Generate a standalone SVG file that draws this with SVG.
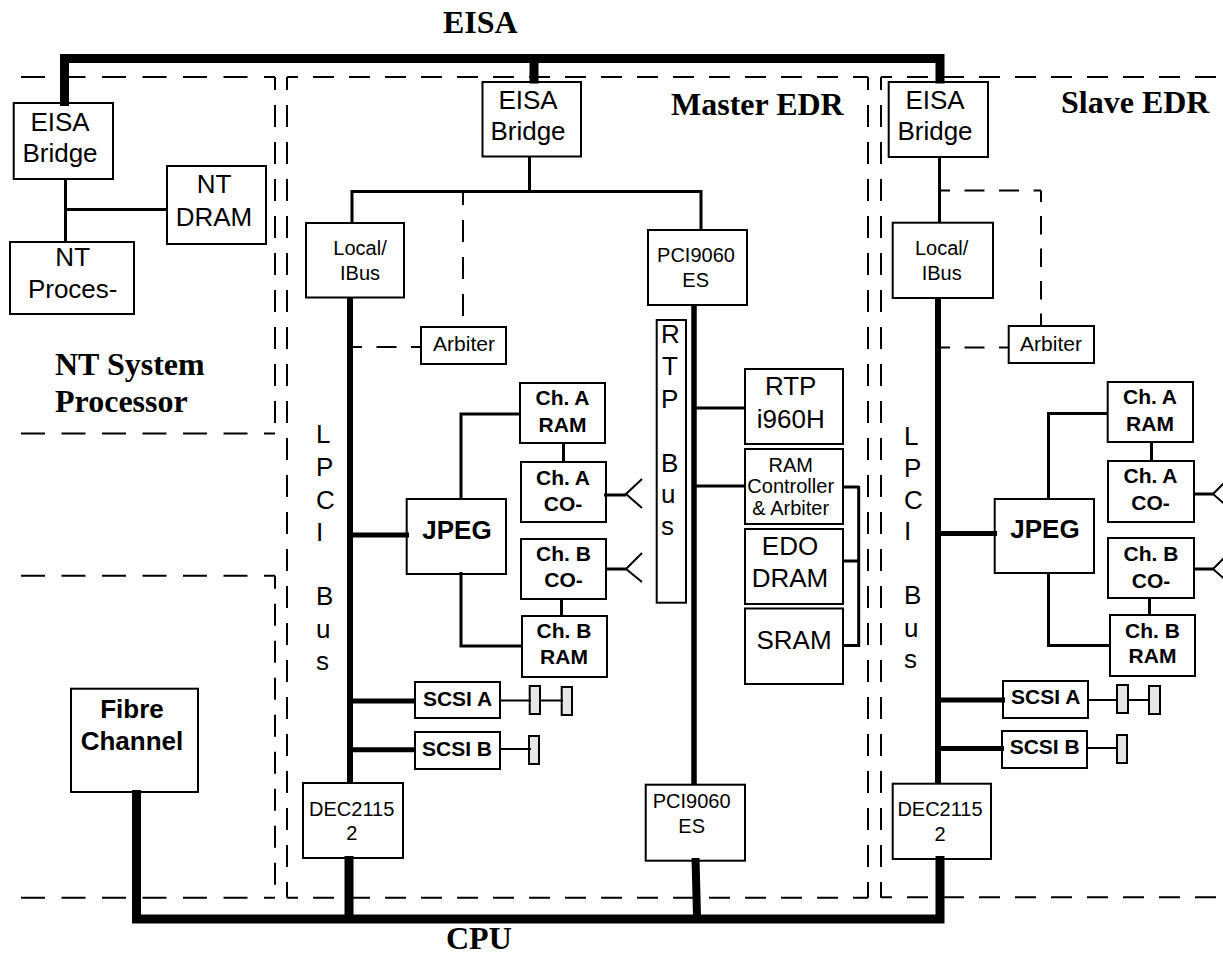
<svg xmlns="http://www.w3.org/2000/svg" width="1223" height="956" viewBox="0 0 1223 956">
<style>
text{font-family:"Liberation Sans",Arial,sans-serif;fill:#000;text-anchor:middle}
.h{font-family:"Liberation Serif","Times New Roman",serif;font-weight:bold;font-size:32px;text-anchor:start}
.s26{font-size:26px}.s20{font-size:20px}.s21{font-size:21px}
.b{font-weight:bold}
.bus{font-size:26px;text-anchor:start}
.box{fill:#fff;stroke:#000;stroke-width:2}
.term{fill:#e6e6e6;stroke:#000;stroke-width:2}
.ln{fill:none;stroke:#000;stroke-width:3}
.thin{fill:none;stroke:#000;stroke-width:2}
.mid{fill:none;stroke:#000;stroke-width:5}
.trunk{fill:none;stroke:#000;stroke-width:6}
.thick{fill:none;stroke:#000;stroke-width:9}
.dh{fill:none;stroke:#000;stroke-width:2;stroke-dasharray:24 16.5}
.dv{fill:none;stroke:#000;stroke-width:2;stroke-dasharray:22 15;stroke-dashoffset:9}
.dm{fill:none;stroke:#000;stroke-width:2;stroke-dasharray:21 15;stroke-dashoffset:10}
.da{fill:none;stroke:#000;stroke-width:2;stroke-dasharray:20 14.5;stroke-dashoffset:10}
.db{fill:none;stroke:#000;stroke-width:2;stroke-dasharray:18.5 14;stroke-dashoffset:7}
</style>
<g id="regions">
<path class="dh" d="M21 77H275M21 433.500H275M21 575.700H275M21 897.700H275"/>
<path class="dv" d="M275 77V433.500M275 575.700V897.700M287 77V897.700M868 77V897.700M881 77V897.700"/>
<path class="dm" d="M287 77H868M287 897.700H868M881 77H1217M881 897.200H1217"/>
</g>
<g id="nt-eisa-bridge"><rect class="box" x="13.700" y="103" width="99.300" height="76"/><text class="s26" x="60" y="130.700">EISA</text><text class="s26" x="60" y="162">Bridge</text></g>
<g id="nt-dram"><rect class="box" x="167" y="166" width="99" height="78"/><text class="s26" x="214" y="193">NT</text><text class="s26" x="214" y="225.700">DRAM</text></g>
<g id="nt-processor"><rect class="box" x="10" y="242" width="124" height="72"/><text class="s26" x="72.700" y="266">NT</text><text class="s26" x="72.700" y="298">Proces-</text></g>
<g id="fibre-channel"><rect class="box" x="71" y="688.700" width="127" height="103.300"/><text class="s26 b" x="132" y="717.700">Fibre</text><text class="s26 b" x="132" y="750">Channel</text></g>
<g id="master-eisa-bridge"><rect class="box" x="482.500" y="82" width="98.500" height="74.500"/><text class="s26" x="528" y="108.500">EISA</text><text class="s26" x="528" y="140">Bridge</text></g>
<g id="master-local-ibus"><rect class="box" x="306" y="223" width="98" height="74.500"/><text class="s20" x="360" y="255">Local/</text><text class="s20" x="360" y="279.500">IBus</text></g>
<g id="master-pci9060-top"><rect class="box" x="648" y="230" width="99" height="75"/><text class="s20" x="696" y="262">PCI9060</text><text class="s20" x="695.700" y="286.700">ES</text></g>
<g id="master-arbiter"><rect class="box" x="421" y="327" width="85" height="37"/><text class="s21" x="464" y="351">Arbiter</text></g>
<g id="master-rtp-bus"><rect class="box" x="656.700" y="320" width="29.300" height="282.700"/>
<text class="bus" x="661" y="343">R</text><text class="bus" x="662" y="375">T</text><text class="bus" x="661" y="408">P</text><text class="bus" x="661" y="472">B</text><text class="bus" x="661" y="503">u</text><text class="bus" x="661" y="535">s</text></g>
<g id="master-lpci-bus"><text class="bus" x="316" y="443">L</text><text class="bus" x="316" y="476">P</text><text class="bus" x="316" y="509">C</text><text class="bus" x="316" y="541">I</text><text class="bus" x="316" y="605">B</text><text class="bus" x="316" y="638">u</text><text class="bus" x="316" y="670">s</text></g>
<g id="master-rtp-i960h"><rect class="box" x="745" y="369" width="98" height="75"/><text class="s26" x="790.700" y="395">RTP</text><text class="s26" x="790.700" y="427.700">i960H</text></g>
<g id="master-ram-controller"><rect class="box" x="745" y="449" width="98" height="75"/><text class="s20" x="790.700" y="472">RAM</text><text class="s20" x="790.700" y="493">Controller</text><text class="s20" x="790.700" y="515">&amp; Arbiter</text></g>
<g id="master-edo-dram"><rect class="box" x="745" y="529" width="98" height="75"/><text class="s26" x="790" y="555">EDO</text><text class="s26" x="790" y="587">DRAM</text></g>
<g id="master-sram"><rect class="box" x="745" y="608.500" width="98" height="75.500"/><text class="s26" x="794" y="649">SRAM</text></g>
<g id="master-jpeg"><rect class="box" x="406.700" y="499" width="99.300" height="75"/><text class="s26 b" x="457" y="539">JPEG</text></g>
<g id="master-ch-a-ram"><rect class="box" x="520" y="383" width="85" height="60"/><text class="s21 b" x="562.500" y="405">Ch. A</text><text class="s21 b" x="562.500" y="431.700">RAM</text></g>
<g id="master-ch-a-co"><rect class="box" x="521" y="462" width="85" height="60"/><text class="s21 b" x="563" y="485">Ch. A</text><text class="s21 b" x="563" y="511">CO-</text></g>
<g id="master-ch-b-co"><rect class="box" x="521" y="539" width="85" height="60"/><text class="s21 b" x="563.500" y="560.700">Ch. B</text><text class="s21 b" x="563.500" y="587">CO-</text></g>
<g id="master-ch-b-ram"><rect class="box" x="522" y="616" width="85" height="61"/><text class="s21 b" x="564" y="637.700">Ch. B</text><text class="s21 b" x="564" y="664">RAM</text></g>
<g id="master-scsi-a"><rect class="box" x="415" y="682" width="85" height="36"/><text class="s21 b" x="457.500" y="706">SCSI A</text></g>
<g id="master-scsi-b"><rect class="box" x="415" y="732" width="85" height="37"/><text class="s21 b" x="457" y="755.700">SCSI B</text></g>
<g id="master-terminators"><rect class="term" x="529.700" y="686" width="10.300" height="28"/><rect class="term" x="561.700" y="687" width="10.300" height="28"/><rect class="term" x="529" y="736" width="10" height="28"/></g>
<g id="master-dec21152"><rect class="box" x="303" y="783" width="100" height="75"/><text class="s20" x="351.700" y="815.700">DEC2115</text><text class="s20" x="351.700" y="840">2</text></g>
<g id="master-pci9060-bottom"><rect class="box" x="645.700" y="784.700" width="99.300" height="76"/><text class="s20" x="691.700" y="808">PCI9060</text><text class="s20" x="691.700" y="833">ES</text></g>
<g id="slave-eisa-bridge"><rect class="box" x="888.700" y="82" width="99.300" height="75"/><text class="s26" x="935" y="109">EISA</text><text class="s26" x="935" y="140">Bridge</text></g>
<g id="slave-local-ibus"><rect class="box" x="892.700" y="222.700" width="100.300" height="75.300"/><text class="s20" x="941.700" y="255">Local/</text><text class="s20" x="941.700" y="280">IBus</text></g>
<g id="slave-arbiter"><rect class="box" x="1008.700" y="326" width="85.300" height="37"/><text class="s21" x="1051" y="351">Arbiter</text></g>
<g id="slave-lpci-bus"><text class="bus" x="904" y="445">L</text><text class="bus" x="904" y="477">P</text><text class="bus" x="904" y="509">C</text><text class="bus" x="904" y="540">I</text><text class="bus" x="904" y="604">B</text><text class="bus" x="904" y="637">u</text><text class="bus" x="904" y="668">s</text></g>
<g id="slave-jpeg"><rect class="box" x="994.700" y="499" width="99.300" height="74"/><text class="s26 b" x="1045" y="538">JPEG</text></g>
<g id="slave-ch-a-ram"><rect class="box" x="1107.700" y="382" width="85.300" height="60"/><text class="s21 b" x="1150" y="404">Ch. A</text><text class="s21 b" x="1150" y="431">RAM</text></g>
<g id="slave-ch-a-co"><rect class="box" x="1108" y="461" width="86" height="61"/><text class="s21 b" x="1150.500" y="483">Ch. A</text><text class="s21 b" x="1150.500" y="510">CO-</text></g>
<g id="slave-ch-b-co"><rect class="box" x="1108" y="538" width="86" height="60"/><text class="s21 b" x="1151" y="561">Ch. B</text><text class="s21 b" x="1151" y="587.700">CO-</text></g>
<g id="slave-ch-b-ram"><rect class="box" x="1110" y="615" width="85" height="61"/><text class="s21 b" x="1152.500" y="637.700">Ch. B</text><text class="s21 b" x="1152.500" y="663">RAM</text></g>
<g id="slave-scsi-a"><rect class="box" x="1003" y="681" width="85" height="37"/><text class="s21 b" x="1045.700" y="704">SCSI A</text></g>
<g id="slave-scsi-b"><rect class="box" x="1002" y="731" width="85" height="37"/><text class="s21 b" x="1044.700" y="754">SCSI B</text></g>
<g id="slave-terminators"><rect class="term" x="1117" y="685" width="11" height="28"/><rect class="term" x="1149" y="686" width="11" height="28"/><rect class="term" x="1117" y="735" width="10" height="28"/></g>
<g id="slave-dec21152"><rect class="box" x="892.700" y="783.700" width="98.300" height="75.300"/><text class="s20" x="940" y="816">DEC2115</text><text class="s20" x="940" y="840.700">2</text></g>
<g id="connectors">
<path class="thick" d="M64.500 106V58.500H940V83.500M534 58.500V83.500M136.500 790V919H940V856M349 856V919"/>
<path class="thick" style="stroke-width:8" d="M695.500 858L697 916"/>
<path class="trunk" d="M350 297V783M938 298V783"/>
<path style="fill:none;stroke:#000;stroke-width:5.500" d="M694 305V785"/>
<path class="ln" d="M65.500 178V243M66 209.500H168M529.500 157V191.500M352 223V191.500H701V230M939.500 157V223"/>
<path class="dv" d="M463 192V327"/>
<path class="da" d="M352 347H421M940 190.500H1041M940 347.500H1008"/>
<path class="db" d="M1041 190.500V326"/>
<path class="ln" d="M696 408H745M696 486H745M842 487H859M842 561H859M842 645.500H859M858.700 486V647"/>
<path class="ln" d="M461 499V414H520M461 572V646H523M563.500 442V463M561.500 598V617"/>
<path class="ln" d="M1048.500 499V413.500H1108M1048.500 572V645.500H1110M1151.500 441V462M1149.500 597V616"/>
<path class="mid" d="M350 535H409M350 701H416M350 749.700H416M938 533.500H997M938 700H1005M938 748.500H1004"/>
<path class="ln" d="M604 495H626M606 569H626M1194 494H1213M1194 569H1213"/>
<path class="thin" d="M642 479L626 494L642 508M642 553L626 569L642 582M1229 478L1213 494L1229 508M1229 553L1213 569L1229 583"/>
<path class="thin" d="M500 700.500H531M539 700.500H563M500 749H531M1087 700H1118M1127 700H1150M1087 748H1118"/>
</g>
<g id="labels"><text class="h" x="443" y="33">EISA</text><text class="h" x="671" y="115">Master EDR</text><text class="h" x="1061" y="112.700">Slave EDR</text><text class="h" x="55" y="375">NT System</text><text class="h" x="55" y="412">Processor</text><text class="h" x="446" y="949">CPU</text></g>
</svg>
